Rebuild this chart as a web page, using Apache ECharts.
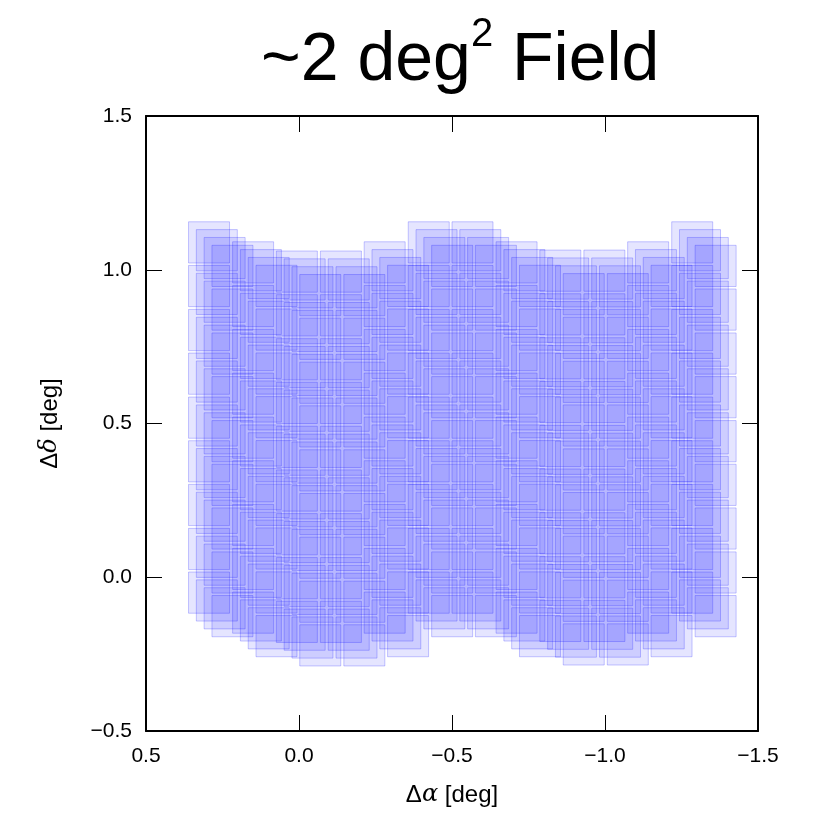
<!DOCTYPE html>
<html>
<head>
<meta charset="utf-8">
<script src="https://cdn.jsdelivr.net/npm/echarts@6/dist/echarts.min.js"></script>
<style>html,body{margin:0;padding:0;background:#fff}#c{width:813px;height:817px}</style>
</head>
<body>
<div id="c"></div>
<script>
// Column centres (RA offset, deg) of the first dither position
const colRA = [0.294, 0.150, 0.007, -0.137, -0.280, -0.424, -0.567, -0.711, -0.854, -0.998, -1.141, -1.285];
// Dec of the top field centre in each column (first dither)
const colTopDec = [1.089, 1.024, 0.994, 0.994, 1.024, 1.089, 1.089, 1.024, 0.997, 0.997, 1.024, 1.089];
// Row offsets (deg) below the top field in each column
const rowOffsets = [0, -0.142, -0.285, -0.427, -0.570, -0.712, -0.854, -0.997, -1.139];
// Dither offsets (deg)
const ditherRA = [0, -0.0255, -0.051, -0.0765];
const ditherDec = [0, -0.0255, -0.051, -0.0765];
// Field side (deg)
const fieldSide = 0.134;

const fields = [];
for (let c = 0; c < colRA.length; c++) {
  for (let r = 0; r < rowOffsets.length; r++) {
    for (let d = 0; d < ditherRA.length; d++) {
      fields.push([colRA[c] + ditherRA[d], colTopDec[c] + rowOffsets[r] + ditherDec[d]]);
    }
  }
}

function fmt(v) {
  const s = Math.abs(v).toFixed(1);
  return v < -1e-9 ? '\u2212' + s : s;
}

const chart = echarts.init(document.getElementById('c'), null, {renderer: 'canvas'});
const FONT = 'Liberation Sans, Arial, Helvetica, sans-serif';
const axisCommon = {
  type: 'value',
  interval: 0.5,
  splitLine: {show: false},
  axisLine: {show: true, onZero: false, lineStyle: {color: '#000', width: 2}},
  axisTick: {show: true, inside: true, length: 16, lineStyle: {color: '#000', width: 1}},
};
const option = {
  backgroundColor: '#fff',
  animation: false,
  title: {
    text: '{a|~2 deg}{s|2}{a| Field}',
    left: 256, top: 10,
    textStyle: {
      fontFamily: FONT, fontWeight: 'normal',
      rich: {
        a: {fontSize: 68, fontFamily: FONT, fontWeight: 'normal', color: '#000', lineHeight: 78, verticalAlign: 'bottom'},
        s: {fontSize: 40, fontFamily: FONT, fontWeight: 'normal', color: '#000', lineHeight: 80, verticalAlign: 'top'}
      }
    }
  },
  grid: {left: 146, top: 116, width: 612, height: 615, containLabel: false},
  xAxis: [
    Object.assign({}, axisCommon, {
      min: -1.5, max: 0.5, inverse: true, position: 'bottom',
      axisLabel: {show: true, formatter: fmt, fontSize: 21, fontFamily: FONT, color: '#000', margin: 15},
      name: '{g|\u0394}{i|\u03b1}{g| [deg]}',
      nameLocation: 'middle', nameGap: 52,
      nameTextStyle: {rich: {
        g: {fontSize: 24, fontFamily: FONT, color: '#000'},
        i: {fontSize: 24, fontFamily: 'DejaVu Serif, serif', fontStyle: 'italic', color: '#000'}
      }}
    }),
    Object.assign({}, axisCommon, {
      min: -1.5, max: 0.5, inverse: true, position: 'top',
      axisLabel: {show: false}
    })
  ],
  yAxis: [
    Object.assign({}, axisCommon, {
      min: -0.5, max: 1.5, position: 'left',
      axisLabel: {show: true, formatter: fmt, fontSize: 21, fontFamily: FONT, color: '#000', margin: 14},
      name: '{g|\u0394}{i|\u03b4}{g| [deg]}',
      nameLocation: 'middle', nameGap: 84, nameRotate: 90,
      nameTextStyle: {rich: {
        g: {fontSize: 24, fontFamily: FONT, color: '#000'},
        i: {fontSize: 24, fontFamily: 'DejaVu Serif, serif', fontStyle: 'italic', color: '#000'}
      }}
    }),
    Object.assign({}, axisCommon, {
      min: -0.5, max: 1.5, position: 'right',
      axisLabel: {show: false}
    })
  ],
  series: [{
    type: 'custom',
    xAxisIndex: 0, yAxisIndex: 0,
    clip: true,
    data: fields,
    renderItem: function (params, api) {
      const x = api.value(0), y = api.value(1), h = fieldSide / 2;
      const p1 = api.coord([x + h, y + h]);
      const p2 = api.coord([x - h, y - h]);
      return {
        type: 'rect',
        shape: {
          x: Math.min(p1[0], p2[0]), y: Math.min(p1[1], p2[1]),
          width: Math.abs(p2[0] - p1[0]), height: Math.abs(p2[1] - p1[1])
        },
        style: {fill: 'rgba(0,0,255,0.1)', stroke: 'rgba(0,0,255,0.22)', lineWidth: 1}
      };
    }
  }]
};
chart.setOption(option);
</script>
</body>
</html>
